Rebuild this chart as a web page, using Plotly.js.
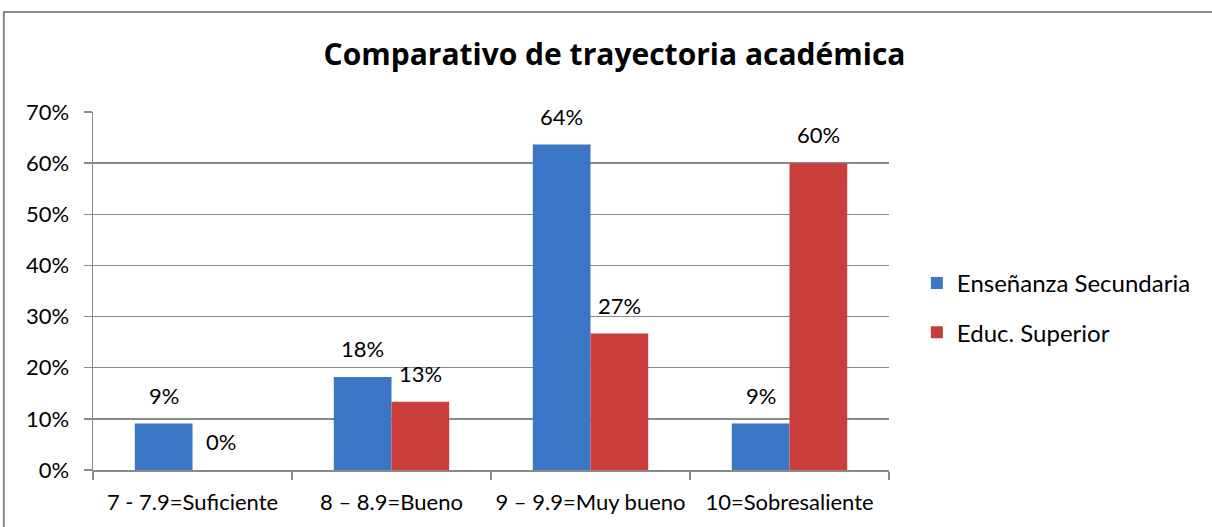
<!DOCTYPE html>
<html>
<head>
<meta charset="utf-8">
<script src="https://cdn.plot.ly/plotly-3.0.1.min.js"></script>
<style>html,body{margin:0;padding:0;background:#fff;}#chart{width:1212px;height:527px;}</style>
</head>
<body>
<div id="chart"></div>
<script>
// Data
const categories = ["7 - 7.9=Suficiente", "8 – 8.9=Bueno", "9 – 9.9=Muy bueno", "10=Sobresaliente"];
const seriesNames = ["Enseñanza Secundaria", "Educ. Superior"];
const secundaria = [0.0909, 0.1818, 0.6364, 0.0909];
const superior = [0.0, 0.1333, 0.2667, 0.60];
const yTickVals = [0, 0.1, 0.2, 0.3, 0.4, 0.5, 0.6, 0.7];
const yTickText = ["0%", "10%", "20%", "30%", "40%", "50%", "60%", "70%"];

const FONT = "Lato, 'Open Sans', sans-serif";
const TITLE_FONT = "'Open Sans', Lato, sans-serif";
const bargap = 0.42;
const barW = (1 - bargap) / 2;

function barTrace(name, values, fill, line, group) {
  return {
    type: "bar", name: name, x: categories, y: values,
    marker: {color: fill, line: {color: line, width: 0}},
    legendgroup: group, hoverinfo: "skip"
  };
}

const traces = [
  barTrace(seriesNames[0], secundaria, "#3b76c4", "#2d5c9e", "a"),
  barTrace(seriesNames[1], superior, "#c93e3b", "#a3302e", "b")
];

const annotations = [];
[secundaria, superior].forEach(function(vals, s) {
  vals.forEach(function(v, i) {
    annotations.push({
      x: i + (s === 0 ? -1 : 1) * barW / 2, y: v, xref: "x", yref: "y",
      text: Math.round(v * 100) + "%", showarrow: false,
      yanchor: "bottom", yshift: 13,
      font: {family: FONT, size: 22, color: "#000"}
    });
  });
});

const layout = {
  width: 1212, height: 527,
  margin: {l: 93, r: 323, t: 112, b: 57},
  paper_bgcolor: "#fff", plot_bgcolor: "#fff",
  font: {family: FONT, size: 22, color: "#000"},
  barmode: "group", bargap: bargap, bargroupgap: 0,
  title: {
    text: "<b>Comparativo de trayectoria académica</b>",
    font: {family: TITLE_FONT, size: 30, color: "#000"},
    xref: "container", x: 0.507, xanchor: "center",
    yref: "container", y: 0.897, yanchor: "middle"
  },
  xaxis: {
    type: "category", showgrid: false, showline: true, linecolor: "#8a8a8a", linewidth: 1.5,
    ticks: "outside", tickson: "boundaries", ticklen: 8, tickcolor: "#8a8a8a", tickwidth: 1.5,
    tickangle: 0, automargin: false,
    ticklabelstandoff: 12, tickfont: {family: FONT, size: 22, color: "#000"}, fixedrange: true
  },
  yaxis: {
    range: [0, 0.7], tickvals: yTickVals, ticktext: yTickText,
    showgrid: true, gridcolor: "#8a8a8a", gridwidth: 1.5,
    showline: true, linecolor: "#8a8a8a", linewidth: 1.5, zeroline: false,
    ticks: "outside", ticklen: 8, tickcolor: "#8a8a8a", tickwidth: 1.5,
    ticklabelstandoff: 10, tickfont: {family: FONT, size: 22, color: "#000"}, fixedrange: true
  },
  legend: {
    x: 1.035, xanchor: "left", y: 0.4525, yanchor: "middle",
    font: {family: FONT, size: 24, color: "#000"},
    tracegroupgap: 15, bgcolor: "rgba(0,0,0,0)"
  },
  annotations: annotations,
  shapes: [{
    type: "rect", xref: "paper", yref: "paper",
    x0: -0.112, x1: 1.5, y0: -0.3, y1: 1.279,
    line: {color: "#8a8a8a", width: 2}, fillcolor: "rgba(0,0,0,0)", layer: "below"
  }]
};

Plotly.newPlot("chart", traces, layout, {displayModeBar: false, staticPlot: true});
</script>
</body>
</html>
